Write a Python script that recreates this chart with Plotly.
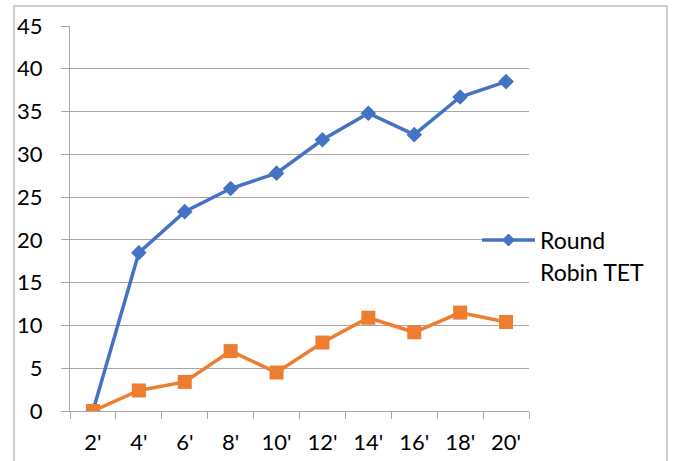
import plotly.graph_objects as go

categories = ["2'", "4'", "6'", "8'", "10'", "12'", "14'", "16'", "18'", "20'"]
rr_tet = [0, 18.5, 23.3, 26.0, 27.8, 31.7, 34.8, 32.3, 36.7, 38.5]
second_series = [0, 2.4, 3.4, 7.0, 4.5, 8.0, 10.9, 9.2, 11.5, 10.4]
y_ticks = [0, 5, 10, 15, 20, 25, 30, 35, 40, 45]
legend_lines = ["Round", "Robin TET"]

BLUE = "#4472C4"
ORANGE = "#ED7D31"
GRID = "#A6A6A6"
FONT = "Lato, Carlito, Calibri, sans-serif"

# plot area in pixels: x 70..529, y 26..411
PW, PH = 459.0, 385.0


def px(x):
    return (x - 70) / PW


def py(y):
    return (411 - y) / PH


fig = go.Figure()
fig.add_trace(go.Scatter(
    x=categories, y=rr_tet, mode="lines+markers",
    name="Round Robin TET", showlegend=False,
    line=dict(color=BLUE, width=3.5),
    marker=dict(symbol="diamond", size=12, color=BLUE),
))
fig.add_trace(go.Scatter(
    x=categories, y=second_series, mode="lines+markers",
    showlegend=False,
    line=dict(color=ORANGE, width=3.5),
    marker=dict(symbol="square", size=14, color=ORANGE),
))

# legend key for the blue series
lx0, lx1, ly = 482, 535, 240
cx, d = (lx0 + lx1) / 2, 6
diamond = (f"M {px(cx - d)} {py(ly)} L {px(cx)} {py(ly - d)} "
           f"L {px(cx + d)} {py(ly)} L {px(cx)} {py(ly + d)} Z")
shapes = [
    dict(type="rect", xref="paper", yref="paper",
         x0=px(14), x1=px(667), y0=-0.2, y1=py(6),
         line=dict(color="#BFBFBF", width=1.5), layer="below"),
    dict(type="line", xref="paper", yref="paper",
         x0=px(lx0), x1=px(lx1), y0=py(ly), y1=py(ly),
         line=dict(color=BLUE, width=3.5)),
    dict(type="path", xref="paper", yref="paper", path=diamond,
         fillcolor=BLUE, line=dict(color=BLUE, width=1)),
]
annotations = [
    dict(xref="paper", yref="paper", x=px(538), y=py(240 + 32 * i),
         xanchor="left", yanchor="middle", showarrow=False,
         text=t, font=dict(family=FONT, size=23, color="#000000"))
    for i, t in enumerate(legend_lines)
]

fig.update_layout(
    width=675, height=461,
    margin=dict(l=70, r=146, t=26, b=50),
    paper_bgcolor="white", plot_bgcolor="white",
    font=dict(family=FONT, size=22, color="#000000"),
    shapes=shapes, annotations=annotations,
)
fig.update_xaxes(
    type="category", range=[-0.5, len(categories) - 0.5],
    showgrid=False, automargin=False,
    showline=True, linecolor=GRID, linewidth=1,
    ticks="outside", tickson="boundaries", ticklen=7, tickcolor=GRID,
    ticklabelstandoff=12,
)
fig.update_yaxes(
    range=[0, 45], tickvals=y_ticks, automargin=False,
    showgrid=True, gridcolor=GRID, gridwidth=1,
    showline=True, linecolor=GRID, linewidth=1,
    ticks="outside", ticklen=8, tickcolor=GRID,
    ticklabelstandoff=14, zeroline=False,
)

fig.write_html("out.html")
